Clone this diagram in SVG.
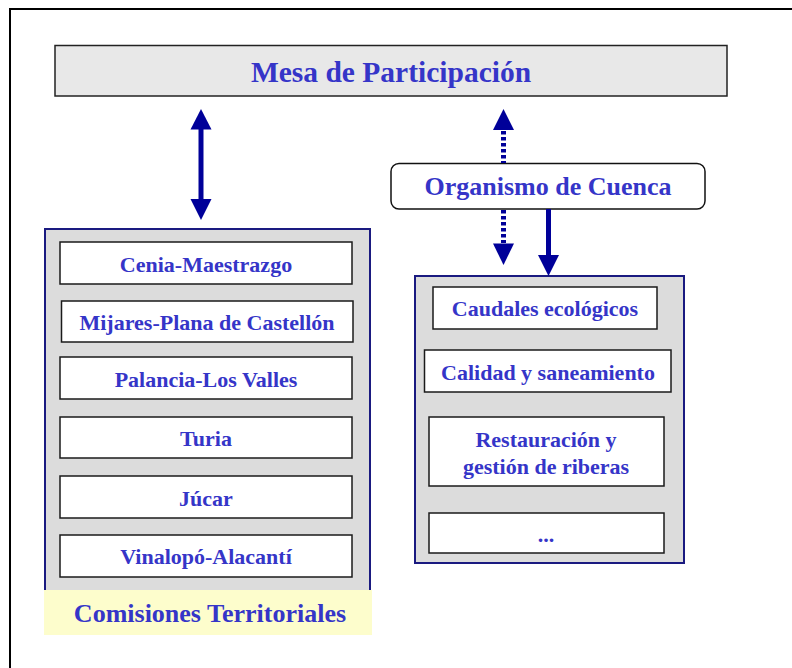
<svg xmlns="http://www.w3.org/2000/svg" width="792" height="668" viewBox="0 0 792 668">
<defs>
<style>
.t{font-family:"Liberation Serif","Times New Roman",serif;font-weight:bold;fill:#3535c8;text-anchor:middle}
.item{fill:#ffffff;stroke:#1a1a1a;stroke-width:1.5}
.cont{fill:#dcdcdc;stroke:#1a1a80;stroke-width:2}
.arr{stroke:#000099;stroke-width:5;fill:none}
.head{fill:#000099}
</style>
</defs>
<rect x="0" y="0" width="792" height="668" fill="#ffffff"/>
<path d="M10,668 V9 H792" fill="none" stroke="#000" stroke-width="2"/>

<g id="mesa">
<rect x="55" y="45.5" width="672" height="50.5" fill="#e8e8e8" stroke="#222" stroke-width="1.5"/>
<text class="t" x="391" y="82" font-size="29.5">Mesa de Participación</text>
</g>

<g id="organismo">
<rect x="391" y="163.5" width="314" height="45.5" rx="8" fill="#ffffff" stroke="#111" stroke-width="1.5"/>
<text class="t" x="548" y="195" font-size="26">Organismo de Cuenca</text>
</g>

<g id="comisiones">
<rect x="44" y="590" width="328" height="45" fill="#fdfdcc"/>
<path d="M45,590 V229 H370 V590" class="cont"/>
<text class="t" x="210" y="621.5" font-size="26">Comisiones Territoriales</text>
</g>
<g id="cenia"><rect class="item" x="60" y="242" width="292" height="42"/><text class="t" x="206" y="272" font-size="22">Cenia-Maestrazgo</text></g>
<g id="mijares"><rect class="item" x="61.5" y="301" width="291.5" height="41"/><text class="t" x="207" y="329.5" font-size="22">Mijares-Plana de Castellón</text></g>
<g id="palancia"><rect class="item" x="60" y="357" width="292" height="42"/><text class="t" x="206" y="387" font-size="22">Palancia-Los Valles</text></g>
<g id="turia"><rect class="item" x="60" y="417" width="292" height="41"/><text class="t" x="206" y="446" font-size="22">Turia</text></g>
<g id="jucar"><rect class="item" x="60" y="476" width="292" height="42"/><text class="t" x="206" y="506" font-size="22">Júcar</text></g>
<g id="vinalopo"><rect class="item" x="60" y="535" width="292" height="42"/><text class="t" x="206" y="563.5" font-size="22">Vinalopó-Alacantí</text></g>

<g id="grupos">
<rect class="cont" x="415" y="276" width="269" height="287"/>
</g>
<g id="caudales"><rect class="item" x="433" y="287" width="224" height="42"/><text class="t" x="545" y="316" font-size="22">Caudales ecológicos</text></g>
<g id="calidad"><rect class="item" x="424.5" y="350" width="246.5" height="42"/><text class="t" x="548" y="380" font-size="22">Calidad y saneamiento</text></g>
<g id="restauracion"><rect class="item" x="429" y="417" width="235" height="69"/><text class="t" x="546" y="447" font-size="22">Restauración y</text><text class="t" x="546" y="473.5" font-size="22">gestión de riberas</text></g>
<g id="otros"><rect class="item" x="429" y="513" width="235" height="40"/><text class="t" x="546" y="541.5" font-size="22">...</text></g>

<g id="connectors">
<line class="arr" x1="201" y1="128" x2="201" y2="201"/>
<polygon class="head" points="201,109 190.5,129.5 211.5,129.5"/>
<polygon class="head" points="201,220 190.5,199 211.5,199"/>
<line class="arr" x1="503.5" y1="131" x2="503.5" y2="163" stroke-dasharray="3.5,2.5"/>
<polygon class="head" points="503.5,109 493,130 514,130"/>
<line class="arr" x1="503.5" y1="210" x2="503.5" y2="243" stroke-dasharray="3.5,2.5"/>
<polygon class="head" points="503.5,265 493,243.5 514,243.5"/>
<line class="arr" x1="548.5" y1="209" x2="548.5" y2="257"/>
<polygon class="head" points="548.5,276 538,255 559,255"/>
</g>
</svg>
